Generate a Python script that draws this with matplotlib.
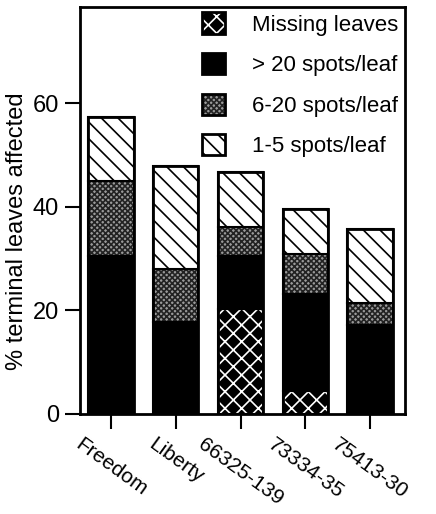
import matplotlib
matplotlib.use("Agg")
import matplotlib.pyplot as plt
from matplotlib.patches import Patch
from matplotlib.legend_handler import HandlerTuple
import numpy as np

plt.rcParams['font.family'] = ['Liberation Sans', 'DejaVu Sans']
plt.rcParams['hatch.linewidth'] = 1.2

# --- data ---
cultivars = ['Freedom', 'Liberty', '66325-139', '73334-35', '75413-30']
missing = [0, 0, 20.2, 4.5, 0]
over20 = [30.6, 17.8, 10.3, 18.7, 17.1]
spots6_20 = [14.5, 10.2, 5.6, 7.7, 4.4]
spots1_5 = [12.3, 19.9, 10.7, 8.8, 14.2]
yticks = [0, 20, 40, 60]

series = [
    ('Missing leaves', missing, dict(facecolor='black', edgecolor='white', hatch='xx')),
    ('> 20 spots/leaf', over20, dict(facecolor='black', edgecolor='black', hatch=None)),
    ('6-20 spots/leaf', spots6_20, dict(facecolor='#9a9a9a', edgecolor='#222222', hatch='xxxxxx')),
    ('1-5 spots/leaf', spots1_5, dict(facecolor='white', edgecolor='black', hatch='\\\\')),
]

fig = plt.figure(figsize=(4.36, 5.14), dpi=100)
ax = fig.add_axes([0.1835, 0.1946, 0.929 - 0.1835, 0.986 - 0.1946])

x = np.arange(len(cultivars))
width = 0.7
bottom = np.zeros(len(cultivars))
handles = []
for label, vals, style in series:
    vals = np.array(vals, dtype=float)
    ax.bar(x, vals, width, bottom=bottom, linewidth=0, **style)
    # black outline around each segment
    ax.bar(x, vals, width, bottom=bottom, fill=False, edgecolor='black', linewidth=1.5)
    bottom += vals
    handles.append((Patch(linewidth=0, **style),
                    Patch(fill=False, edgecolor='black', linewidth=2)))
# outline of the full bar
ax.bar(x, bottom, width, fill=False, edgecolor='black', linewidth=2)

ax.set_xlim(-0.48, 4.54)
ax.set_ylim(0, 78.6)
ax.set_yticks(yticks)
ax.set_yticklabels([str(t) for t in yticks], fontsize=17)
ax.set_xticks(x)
ax.set_xticklabels(cultivars, fontsize=15, rotation=-36, ha='center', va='top')
ax.tick_params(axis='both', direction='out', length=11, width=1.5, pad=4)
for s in ax.spines.values():
    s.set_linewidth(2)

ax.set_ylabel('% terminal leaves affected', fontsize=17)
ax.yaxis.set_label_coords(-0.16, 0.45)

ax.legend(handles, [s[0] for s in series],
          handler_map={tuple: HandlerTuple(ndivide=1, pad=0)},
          loc='upper right', bbox_to_anchor=(1.02, 1.02), frameon=False,
          fontsize=16, handlelength=1.05, handleheight=1.1,
          labelspacing=0.78, handletextpad=1.2, borderaxespad=0.2)

fig.savefig('out.png', dpi=100)
